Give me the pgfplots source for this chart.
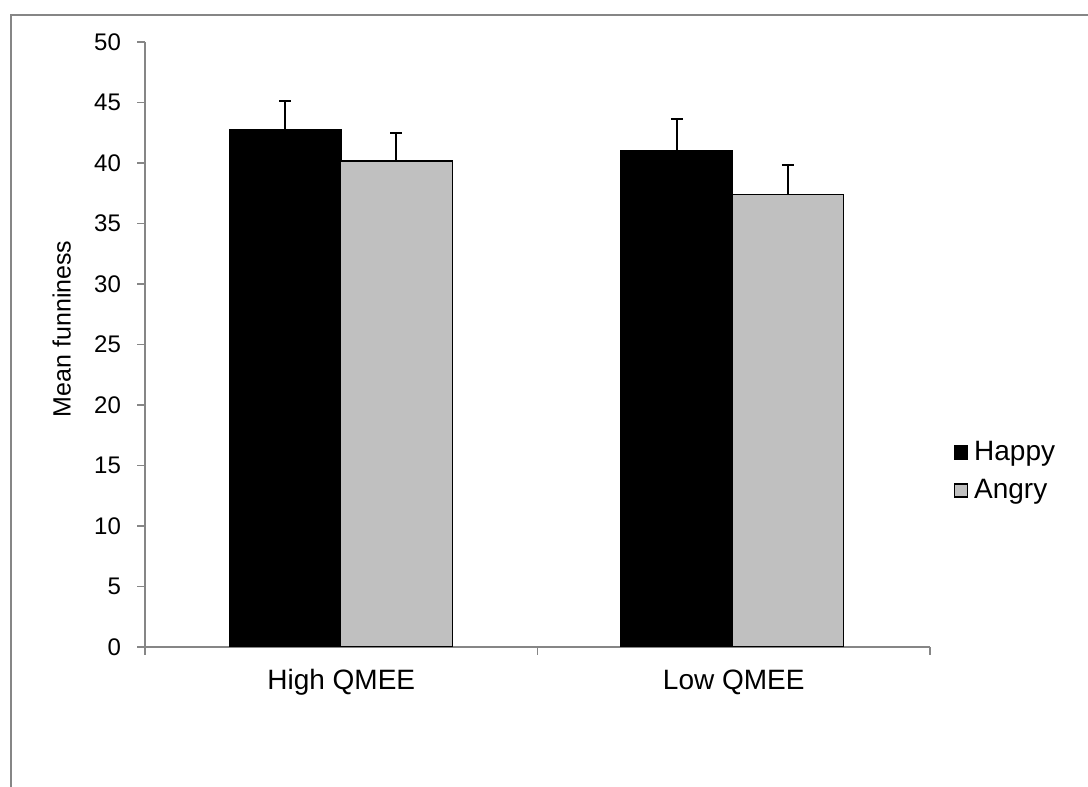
\documentclass[border=0pt]{standalone}
\usepackage{fontspec}
\setmainfont{Liberation Sans}
\usepackage{pgfplots}
\usepackage{pgfplotstable}
\pgfplotsset{compat=1.18}
\definecolor{axisgray}{RGB}{134,134,134}
\definecolor{bargray}{RGB}{192,192,192}
\pgfplotstableread{
x y err
0.357 42.73 2.41
1.355 41.06 2.58
}\happy
\pgfplotstableread{
x y err
0.640 40.17 2.31
1.638 37.37 2.46
}\angry
\begin{document}
\begin{tikzpicture}
\useasboundingbox (0,0) rectangle (544pt,393.5pt);
\draw[axisgray, line width=1pt] (5.5pt,0) -- (5.5pt,386pt) -- (544pt,386pt);
\begin{axis}[
  at={(72.5pt,70pt)}, anchor=origin,
  scale only axis,
  width=392.5pt, height=302.5pt,
  xmin=0, xmax=2, ymin=0, ymax=50,
  axis x line*=bottom, axis y line*=left,
  axis line style={axisgray, line width=0.9pt, -},
  xtick={0,1,2}, xticklabels={High QMEE,Low QMEE},
  x tick label as interval,
  ytick={0,5,...,50},
  tick align=outside,
  major tick length=4pt,
  tick style={axisgray, line width=0.9pt},
  /pgf/number format/assume math mode=true,
  yticklabel style={font=\fontsize{12}{14}\selectfont, xshift=-4.5pt},
  xticklabel style={font=\fontsize{14}{16}\selectfont, text height=10.5pt, text depth=3pt, yshift=-3pt},
  ylabel={Mean funniness},
  ylabel style={at={(axis description cs:-0.106,0.526)}, anchor=center, font=\fontsize{12.5}{15}\selectfont},
  ybar, bar width=0.285, bar shift=0pt,
  legend style={at={(axis description cs:1.030,0.29)}, anchor=west, draw=none, fill=none, inner sep=0pt,
    font=\fontsize{14}{16}\selectfont, row sep=3.5pt, nodes={inner sep=1pt, text height=10.5pt, text depth=3pt}},
  legend cell align=left,
  legend image code/.code={\draw[#1] (0pt,-3.25pt) rectangle (6.5pt,3.25pt); \path (8.5pt,0pt);},
]
\addplot[fill=black, draw=black, line width=0.6pt,
  error bars/.cd, y dir=plus, y explicit,
  error bar style={black, line width=1pt},
  error mark options={black, rotate=90, mark size=3pt, line width=1pt}]
  table[x=x, y=y, y error=err] {\happy};
\addplot[fill=bargray, draw=black, line width=0.6pt,
  error bars/.cd, y dir=plus, y explicit,
  error bar style={black, line width=1pt},
  error mark options={black, rotate=90, mark size=3pt, line width=1pt}]
  table[x=x, y=y, y error=err] {\angry};
\legend{Happy,Angry}
\end{axis}
\end{tikzpicture}
\end{document}
